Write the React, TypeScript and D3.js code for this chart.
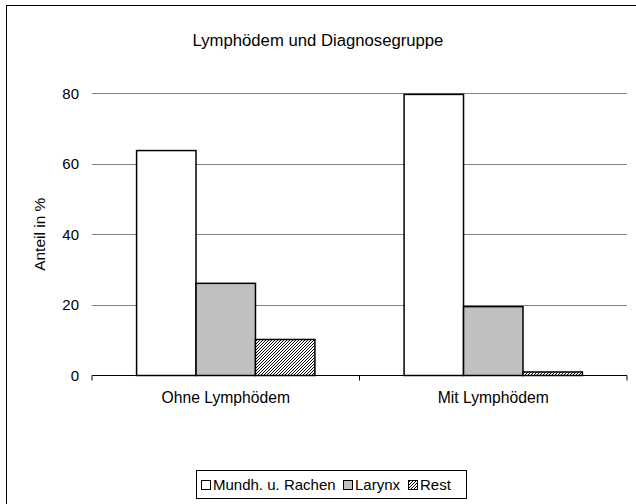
import React from "react";
import * as d3 from "d3";

const categories = ["Ohne Lymphödem", "Mit Lymphödem"];
const seriesNames = ["Mundh. u. Rachen", "Larynx", "Rest"];
const mundh = [63.7, 79.6];
const larynx = [26.1, 19.5];
const rest = [10.2, 1.0];
const yTicks = [0, 20, 40, 60, 80];

const W = 636;
const H = 504;
const font = "'Liberation Sans', Arial, sans-serif";

export default function App() {
  const plotL = 92, plotR = 627, plotT = 93, plotB = 375.5;
  const x0 = d3.scaleBand<string>().domain(categories).range([plotL, plotR]).paddingInner(0).paddingOuter(0);
  const bandW = x0.bandwidth();
  const barW = bandW / 4.5;
  const x1 = d3.scaleBand<string>().domain(seriesNames).range([0, barW * 3]);
  const y = d3.scaleLinear().domain([0, 80]).range([plotB, plotT]);
  const series = [mundh, larynx, rest];
  const fills = ["#ffffff", "#c0c0c0", "url(#hatch)"];

  const legendItems = seriesNames.map((n, i) => ({ n, fill: fills[i] }));
  const legX = 196, legY = 470, legW = 270, legH = 28;
  const widths = [123, 46, 31];
  let cx = legX + 5;
  const legPos = legendItems.map((it, i) => {
    const p = cx;
    cx += 9 + 3 + widths[i] + 7;
    return p;
  });

  return (
    <svg width={W} height={H} style={{ position: "absolute", left: 0, top: 0, background: "#fff" }}>
      <defs>
        <pattern id="hatch" patternUnits="userSpaceOnUse" width="3" height="3">
          <rect width="3" height="3" fill="#fff" />
          <path d="M-1,1 l2,-2 M0,3 l3,-3 M2,4 l2,-2" stroke="#000" strokeWidth="1" />
        </pattern>
      </defs>
      <rect x={6.5} y={5.5} width={W} height={H} fill="#fff" stroke="#000" strokeWidth={1} />
      <text x={318} y={46} textAnchor="middle" fontFamily={font} fontSize={16.7} fill="#000">
        Lymphödem und Diagnosegruppe
      </text>
      {yTicks.map((t) => (
        <g key={t}>
          {t > 0 && (
            <line x1={plotL} x2={plotR} y1={Math.round(y(t)) + 0.5} y2={Math.round(y(t)) + 0.5} stroke="#808080" strokeWidth={1} />
          )}
          <text x={79} y={y(t) + 5.5} textAnchor="end" fontFamily={font} fontSize={15} fill="#000">
            {t}
          </text>
        </g>
      ))}
      {categories.map((c, ci) => {
        const gx = (x0(c) as number) + (bandW - barW * 3) / 2;
        return (
          <g key={c}>
            {series.map((s, si) => (
              <rect
                key={si}
                x={gx + (x1(seriesNames[si]) as number)}
                y={y(s[ci])}
                width={barW}
                height={plotB - y(s[ci])}
                fill={fills[si]}
                stroke="#000"
                strokeWidth={1.5}
              />
            ))}
            <text x={(x0(c) as number) + bandW / 2} y={403} textAnchor="middle" fontFamily={font} fontSize={15.7} fill="#000">
              {c}
            </text>
          </g>
        );
      })}
      <line x1={plotL} x2={plotR} y1={plotB} y2={plotB} stroke="#000" strokeWidth={1.2} />
      {[plotL, plotL + bandW, plotR].map((tx, i) => (
        <line key={i} x1={tx} x2={tx} y1={plotB} y2={plotB + 5} stroke="#000" strokeWidth={1} />
      ))}
      <text
        transform={`translate(45,${(plotT + plotB) / 2}) rotate(-90)`}
        textAnchor="middle"
        fontFamily={font}
        fontSize={15.5}
        fill="#000"
      >
        Anteil in %
      </text>
      <rect x={legX + 0.5} y={legY + 0.5} width={legW} height={legH} fill="#fff" stroke="#000" strokeWidth={1} />
      {legendItems.map((it, i) => (
        <g key={it.n}>
          <rect x={legPos[i] + 0.5} y={legY + 10.5} width={9} height={9} fill={it.fill} stroke="#000" strokeWidth={1} />
          <text x={legPos[i] + 12} y={legY + 20} fontFamily={font} fontSize={15} fill="#000">
            {it.n}
          </text>
        </g>
      ))}
    </svg>
  );
}
